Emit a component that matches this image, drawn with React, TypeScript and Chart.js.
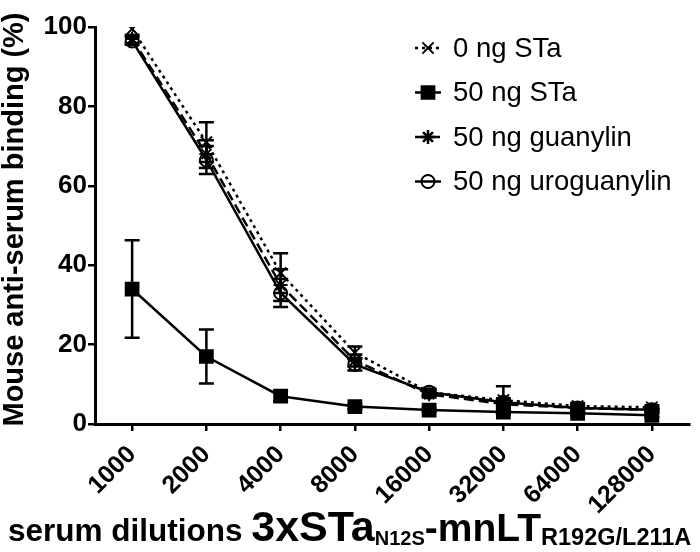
import React, { useEffect, useRef } from 'react';
import { Chart, registerables } from 'chart.js';

Chart.register(...registerables);

// ---------- data ----------
const dilutions = ['1000', '2000', '4000', '8000', '16000', '32000', '64000', '128000'];
const seriesNames = ['0 ng STa', '50 ng STa', '50 ng guanylin', '50 ng uroguanylin'];

const noSTa = [99.5, 71, 38, 18, 8, 6, 4.5, 4.2];
const noSTaErr = [0, 5, 5, 1.5, 0.8, 3.5, 0.8, 0.5];

const sta50 = [34, 17, 7, 4.4, 3.5, 3, 2.7, 2.2];
const sta50Err = [12.3, 6.8, 1.3, 0.7, 0.5, 0.5, 0.5, 0.5];

const guanylin = [97, 68, 35, 16, 7.5, 5, 4, 3.6];
const guanylinErr = [1, 3.5, 4, 1.5, 0.8, 1, 0.8, 0.5];

const uroguanylin = [96.5, 66.5, 33, 15, 8, 5.5, 4, 3.6];
const uroguanylinErr = [1, 3.5, 3.5, 1.5, 0.8, 1, 0.8, 0.5];

const yMin = 0;
const yMax = 100;
const yStep = 20;

const yTitle = 'Mouse anti-serum binding (%)';
const xTitleLead = 'serum dilutions ';
const xTitleMain1 = '3xSTa';
const xTitleSub1 = 'N12S';
const xTitleMain2 = '-mnLT';
const xTitleSub2 = 'R192G/L211A';

const FONT = '"Liberation Sans", Arial, Helvetica, sans-serif';

type Marker = 'crossRot' | 'rect' | 'star' | 'circle';

function drawMarker(ctx: CanvasRenderingContext2D, kind: Marker, x: number, y: number, r: number, fill: string) {
  ctx.save();
  ctx.setLineDash([]);
  ctx.strokeStyle = '#000';
  ctx.fillStyle = fill;
  ctx.lineWidth = 2;
  ctx.beginPath();
  if (kind === 'rect') {
    const s = r * Math.SQRT1_2;
    ctx.rect(x - s, y - s, 2 * s, 2 * s);
    ctx.fill();
    ctx.stroke();
  } else if (kind === 'circle') {
    ctx.arc(x, y, r, 0, Math.PI * 2);
    ctx.stroke();
  } else if (kind === 'crossRot') {
    const d = r * Math.SQRT1_2;
    ctx.moveTo(x - d, y - d); ctx.lineTo(x + d, y + d);
    ctx.moveTo(x + d, y - d); ctx.lineTo(x - d, y + d);
    ctx.stroke();
  } else if (kind === 'star') {
    const d = r * Math.SQRT1_2;
    ctx.lineWidth = 2.5;
    ctx.moveTo(x - d, y - d); ctx.lineTo(x + d, y + d);
    ctx.moveTo(x + d, y - d); ctx.lineTo(x - d, y + d);
    ctx.moveTo(x, y - r); ctx.lineTo(x, y + r);
    ctx.moveTo(x - r, y); ctx.lineTo(x + r, y);
    ctx.stroke();
  }
  ctx.restore();
}

const errorBarPlugin = {
  id: 'errorBars',
  afterDatasetsDraw(chart: any) {
    const ctx: CanvasRenderingContext2D = chart.ctx;
    const yScale = chart.scales.y;
    chart.data.datasets.forEach((ds: any, i: number) => {
      const meta = chart.getDatasetMeta(i);
      const errs: number[] = ds.errors || [];
      meta.data.forEach((pt: any, j: number) => {
        const v = ds.data[j];
        const e = errs[j];
        if (v == null || !e) return;
        const yt = yScale.getPixelForValue(v + e);
        const yb = yScale.getPixelForValue(Math.max(0, v - e));
        const x = pt.x;
        const cap = 7.5;
        ctx.save();
        ctx.setLineDash([]);
        ctx.strokeStyle = '#000';
        ctx.lineWidth = 2.5;
        ctx.beginPath();
        ctx.moveTo(x, yt); ctx.lineTo(x, yb);
        ctx.moveTo(x - cap, yt); ctx.lineTo(x + cap, yt);
        ctx.moveTo(x - cap, yb); ctx.lineTo(x + cap, yb);
        ctx.stroke();
        ctx.restore();
      });
    });
  },
};

const decorPlugin = {
  id: 'decor',
  afterDraw(chart: any) {
    const ctx: CanvasRenderingContext2D = chart.ctx;
    const area = chart.chartArea;
    // ---- y title ----
    ctx.save();
    ctx.fillStyle = '#000';
    ctx.font = `bold 29px ${FONT}`;
    ctx.textAlign = 'center';
    ctx.textBaseline = 'alphabetic';
    ctx.translate(23, (area.top + area.bottom) / 2 - 6);
    ctx.rotate(-Math.PI / 2);
    ctx.fillText(yTitle, 0, 0);
    ctx.restore();

    // ---- x title ----
    ctx.save();
    ctx.fillStyle = '#000';
    ctx.textAlign = 'left';
    ctx.textBaseline = 'alphabetic';
    const base = 541;
    let x = 8;
    ctx.font = `bold 31.5px ${FONT}`;
    ctx.fillText(xTitleLead, x, base);
    x += ctx.measureText(xTitleLead).width;
    ctx.font = `bold 43px ${FONT}`;
    ctx.fillText(xTitleMain1, x, base);
    x += ctx.measureText(xTitleMain1).width;
    ctx.font = `bold 20px ${FONT}`;
    ctx.fillText(xTitleSub1, x, base + 4);
    x += ctx.measureText(xTitleSub1).width;
    ctx.font = `bold 39px ${FONT}`;
    ctx.fillText(xTitleMain2, x, base);
    x += ctx.measureText(xTitleMain2).width;
    ctx.font = `bold 23.5px ${FONT}`;
    ctx.fillText(xTitleSub2, x, base + 4);
    ctx.restore();

    // ---- legend ----
    const lx0 = 415;
    const lx1 = 441;
    const tx = 453;
    const rowY0 = 48;
    const rowGap = 44.5;
    chart.data.datasets.forEach((ds: any, i: number) => {
      const y = rowY0 + i * rowGap;
      ctx.save();
      ctx.strokeStyle = '#000';
      ctx.lineWidth = 2.5;
      ctx.setLineDash(ds.borderDash || []);
      ctx.beginPath();
      ctx.moveTo(lx0, y);
      ctx.lineTo(lx1, y);
      ctx.stroke();
      ctx.restore();
      drawMarker(ctx, ds.pointStyle, (lx0 + lx1) / 2, y, ds.pointRadius, ds.pointBackgroundColor);
      ctx.save();
      ctx.fillStyle = '#000';
      ctx.font = `27.5px ${FONT}`;
      ctx.textAlign = 'left';
      ctx.textBaseline = 'middle';
      ctx.fillText(ds.label, tx, y + 1);
      ctx.restore();
    });
  },
};

export default function App() {
  const ref = useRef<HTMLCanvasElement | null>(null);

  useEffect(() => {
    if (!ref.current) return;
    const mk = (label: string, data: number[], errors: number[], style: Marker, radius: number, dash: number[], fill: string) => ({
      label,
      data,
      errors,
      borderColor: '#000',
      borderWidth: 2.5,
      borderDash: dash,
      pointStyle: style,
      pointRadius: radius,
      pointBorderWidth: 2,
      pointBorderColor: '#000',
      pointBackgroundColor: fill,
      fill: false,
      tension: 0,
    });
    const chart = new Chart(ref.current, {
      type: 'line',
      data: {
        labels: dilutions,
        datasets: [
          mk(seriesNames[0], noSTa, noSTaErr, 'crossRot', 8, [3, 4], '#000'),
          mk(seriesNames[1], sta50, sta50Err, 'rect', 9, [], '#000'),
          mk(seriesNames[2], guanylin, guanylinErr, 'star', 7, [10, 5], '#000'),
          mk(seriesNames[3], uroguanylin, uroguanylinErr, 'circle', 6.5, [], 'rgba(0,0,0,0)'),
        ] as any,
      },
      options: {
        animation: false,
        responsive: true,
        maintainAspectRatio: false,
        layout: { padding: { left: 0, top: 27, right: 5, bottom: 0 } },
        plugins: {
          legend: { display: false },
          tooltip: { enabled: false },
          title: { display: false },
        },
        scales: {
          x: {
            type: 'category',
            offset: true,
            afterFit(scale: any) { scale.height = 128; },
            grid: {
              display: true,
              drawOnChartArea: false,
              drawTicks: true,
              tickLength: 7,
              lineWidth: 2.5,
              color: '#000',
              offset: false,
            },
            border: { display: true, color: '#000', width: 3 },
            ticks: {
              autoSkip: false,
              minRotation: 45,
              maxRotation: 45,
              padding: 9,
              color: '#000',
              font: { family: FONT, size: 25, weight: 'bold' },
            },
          },
          y: {
            min: yMin,
            max: yMax,
            afterFit(scale: any) { scale.width = 95; },
            grid: {
              display: true,
              drawOnChartArea: false,
              drawTicks: true,
              tickLength: 7,
              lineWidth: 2.5,
              color: '#000',
            },
            border: { display: true, color: '#000', width: 3 },
            ticks: {
              stepSize: yStep,
              padding: 1,
              color: '#000',
              font: { family: FONT, size: 26, weight: 'bold' },
            },
          },
        },
      } as any,
      plugins: [errorBarPlugin, decorPlugin],
    });
    return () => chart.destroy();
  }, []);

  return (
    <div style={{ position: 'absolute', left: 0, top: 0, width: 700, height: 552, background: '#fff' }}>
      <canvas ref={ref} />
    </div>
  );
}
